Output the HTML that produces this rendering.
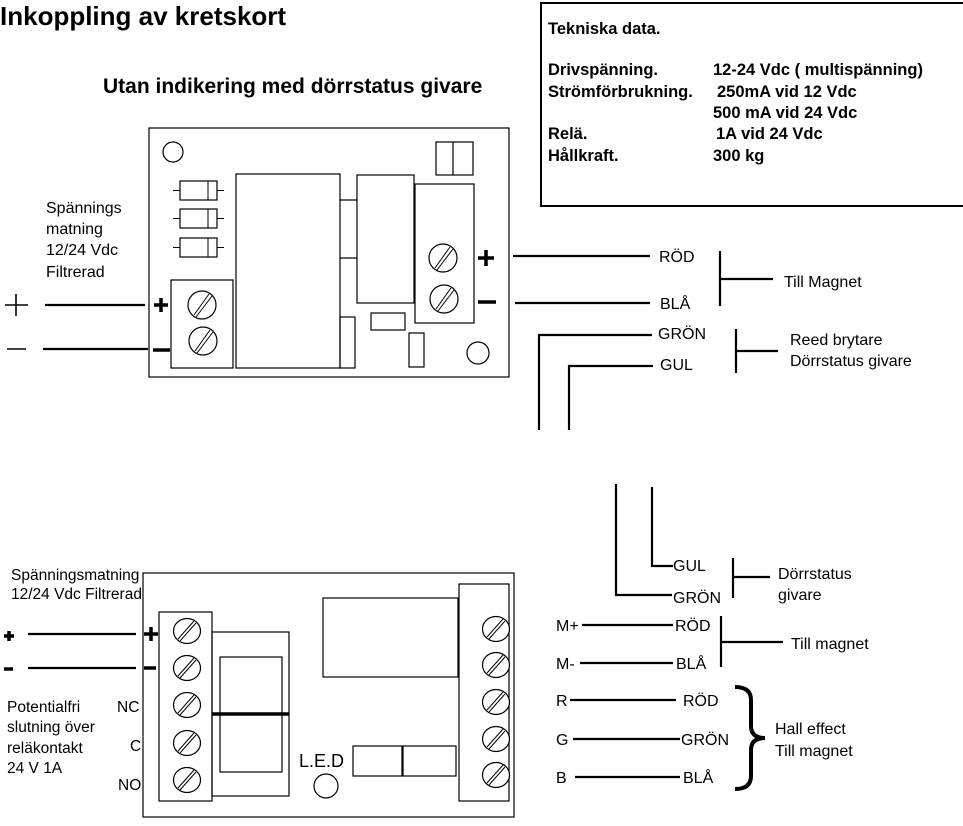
<!DOCTYPE html>
<html><head><meta charset="utf-8"><style>
body{margin:0;background:#fff}
svg{display:block}
text{font-family:"Liberation Sans",Arial,sans-serif;fill:#000}
.b{font-weight:bold}
</style></head><body>
<svg width="963" height="826" viewBox="0 0 963 826" xmlns="http://www.w3.org/2000/svg">
<defs>
<g id="sc"><circle r="14" fill="#fff" stroke="#000" stroke-width="1.2"/><line x1="-8" y1="10" x2="7" y2="-11" stroke="#000" stroke-width="1"/><line x1="-6" y1="12" x2="10" y2="-9" stroke="#000" stroke-width="1"/></g>
<g id="sc2"><ellipse rx="13.5" ry="12.5" fill="#fff" stroke="#000" stroke-width="1.2"/><line x1="-9" y1="8" x2="7" y2="-10" stroke="#000" stroke-width="1"/><line x1="-7" y1="10" x2="9" y2="-8" stroke="#000" stroke-width="1"/></g>
<g id="di"><line x1="-7" y1="9.5" x2="0" y2="9.5" stroke="#000"/><line x1="37" y1="9.5" x2="44" y2="9.5" stroke="#000"/><rect x="0" y="0" width="37" height="19" fill="none" stroke="#000" stroke-width="1.2"/><line x1="28" y1="0" x2="28" y2="19" stroke="#000"/></g>
</defs>
<text x="0" y="25" class="b" font-size="26">Inkoppling av kretskort</text>
<text x="103" y="93" class="b" font-size="21">Utan indikering med dörrstatus givare</text>

<rect x="541" y="3" width="430" height="203" fill="none" stroke="#000" stroke-width="2"/>
<g font-size="16.5">
<text x="548" y="34" class="b">Tekniska data.</text>
<text x="548" y="75" class="b">Drivspänning.</text><text x="713" y="75" class="b">12-24 Vdc ( multispänning)</text>
<text x="548" y="97" class="b">Strömförbrukning.</text><text x="717" y="97" class="b">250mA vid 12 Vdc</text>
<text x="713" y="118" class="b">500 mA vid 24 Vdc</text>
<text x="548" y="139" class="b">Relä.</text><text x="716" y="139" class="b">1A vid 24 Vdc</text>
<text x="548" y="161" class="b">Hållkraft.</text><text x="713" y="161" class="b">300 kg</text>
</g>

<!-- top board -->
<g fill="none" stroke="#000" stroke-width="1.2">
<rect x="149" y="128" width="360" height="249"/>
<circle cx="173" cy="152" r="10"/>
<rect x="436" y="142" width="37" height="33"/><line x1="453" y1="142" x2="453" y2="175"/>
<rect x="236" y="174" width="104" height="194"/>
<rect x="357" y="175" width="57" height="128"/>
<line x1="340" y1="200" x2="357" y2="200"/><line x1="340" y1="258" x2="357" y2="258"/>
<rect x="340" y="317" width="15" height="51"/>
<rect x="415" y="184" width="59" height="139"/>
<rect x="371" y="313" width="34" height="17"/>
<rect x="409" y="333" width="15" height="34"/>
<circle cx="478" cy="353" r="11"/>
<rect x="171" y="280" width="62" height="88"/>
</g>
<use href="#di" x="180" y="181"/><use href="#di" x="180" y="209"/><use href="#di" x="180" y="238"/>
<use href="#sc" x="443" y="258"/><use href="#sc" x="444" y="299"/>
<use href="#sc" x="202" y="305"/><use href="#sc" x="203" y="341"/>
<g stroke="#000" stroke-width="2.2">
<line x1="45" y1="305" x2="145" y2="305"/><line x1="43" y1="349" x2="148" y2="349"/>
<line x1="513" y1="256" x2="650" y2="256"/><line x1="515" y1="303" x2="650" y2="303"/>
<line x1="720" y1="251" x2="720" y2="306"/><line x1="720" y1="279" x2="773" y2="279"/>
<polyline fill="none" points="539,430 539,335 652,335"/>
<polyline fill="none" points="569,430 569,366 653,366"/>
<line x1="736" y1="329" x2="736" y2="373"/><line x1="736" y1="351" x2="778" y2="351"/>
</g>
<g stroke="#000" stroke-width="1.6"><line x1="5" y1="305" x2="28" y2="305"/><line x1="16" y1="294" x2="16" y2="316"/><line x1="7" y1="349" x2="26" y2="349"/></g>
<g stroke="#000" stroke-width="3.5"><line x1="154" y1="305" x2="168" y2="305"/><line x1="161" y1="298" x2="161" y2="312"/><line x1="153" y1="350" x2="170" y2="350"/>
<line x1="478" y1="258" x2="494" y2="258"/><line x1="486" y1="250" x2="486" y2="266"/><line x1="478" y1="302" x2="496" y2="302"/></g>
<g font-size="16">
<text x="46" y="213">Spännings</text><text x="46" y="234">matning</text><text x="46" y="255">12/24 Vdc</text><text x="46" y="277">Filtrerad</text>
<text x="659" y="262">RÖD</text><text x="660" y="309">BLÅ</text>
<text x="784" y="287">Till Magnet</text>
<text x="658" y="339">GRÖN</text><text x="660" y="370">GUL</text>
<text x="790" y="345">Reed brytare</text><text x="790" y="366">Dörrstatus givare</text>
</g>

<!-- bottom -->
<g stroke="#000" stroke-width="2.2" fill="none">
<polyline points="616,484 616,595 672,595"/>
<polyline points="652,487 652,566 673,566"/>
<line x1="733" y1="558" x2="733" y2="598"/><line x1="733" y1="577" x2="770" y2="577"/>
<line x1="582" y1="625" x2="673" y2="625"/><line x1="580" y1="663" x2="673" y2="663"/>
<line x1="721" y1="616" x2="721" y2="667"/><line x1="721" y1="642" x2="783" y2="642"/>
<line x1="570" y1="700" x2="676" y2="700"/><line x1="573" y1="739" x2="680" y2="739"/><line x1="575" y1="777" x2="680" y2="777"/>
<line x1="28" y1="634" x2="136" y2="634"/><line x1="28" y1="668" x2="136" y2="668"/>
</g>
<path d="M735,687 Q751,687 751,700 L751,726 Q751,738 765,738 Q751,738 751,750 L751,776 Q751,789 735,789" fill="none" stroke="#000" stroke-width="4"/>
<g fill="none" stroke="#000" stroke-width="1.2">
<rect x="143" y="573" width="371" height="244"/>
<rect x="159" y="612" width="53" height="189"/>
<rect x="212" y="632" width="77" height="164"/>
<rect x="220" y="657" width="62" height="115"/>
<rect x="323" y="598" width="135" height="79"/>
<rect x="459" y="584" width="50" height="217"/>
<rect x="353" y="746" width="49" height="30"/><rect x="403" y="746" width="53" height="30"/>
<circle cx="326" cy="786" r="12"/>
</g>
<line x1="212" y1="714" x2="289" y2="714" stroke="#000" stroke-width="3.5"/>
<use href="#sc2" x="187" y="631"/><use href="#sc2" x="187" y="668"/><use href="#sc2" x="187" y="705"/><use href="#sc2" x="187" y="743"/><use href="#sc2" x="187" y="780"/>
<use href="#sc2" x="496" y="629"/><use href="#sc2" x="496" y="665"/><use href="#sc2" x="496" y="702"/><use href="#sc2" x="496" y="739"/><use href="#sc2" x="496" y="775"/>
<g stroke="#000" stroke-width="3.5"><line x1="144" y1="634" x2="158" y2="634"/><line x1="151" y1="627" x2="151" y2="641"/><line x1="144" y1="668" x2="156" y2="668"/>
<line x1="4" y1="636" x2="14" y2="636"/><line x1="9" y1="631" x2="9" y2="641"/><line x1="4" y1="669" x2="13" y2="669"/></g>
<g font-size="15.5">
<text x="11" y="580">Spänningsmatning</text><text x="11" y="599">12/24 Vdc Filtrerad</text>
<text x="7" y="712">Potentialfri</text><text x="7" y="732">slutning över</text><text x="7" y="753">reläkontakt</text><text x="7" y="773">24 V 1A</text>
<text x="117" y="712">NC</text><text x="130" y="751">C</text><text x="118" y="790">NO</text>
</g>
<text x="299" y="767" font-size="18">L.E.D</text>
<g font-size="16">
<text x="556" y="631">M+</text><text x="556" y="669">M-</text><text x="556" y="706">R</text><text x="556" y="745">G</text><text x="556" y="783">B</text>
<text x="675" y="631">RÖD</text><text x="676" y="669">BLÅ</text>
<text x="683" y="706">RÖD</text><text x="681" y="745">GRÖN</text><text x="683" y="783">BLÅ</text>
<text x="673" y="571">GUL</text><text x="673" y="603">GRÖN</text>
<text x="778" y="579">Dörrstatus</text><text x="778" y="600">givare</text>
<text x="791" y="649">Till magnet</text>
<text x="775" y="734">Hall effect</text><text x="775" y="756">Till magnet</text>
</g>
</svg>
</body></html>
